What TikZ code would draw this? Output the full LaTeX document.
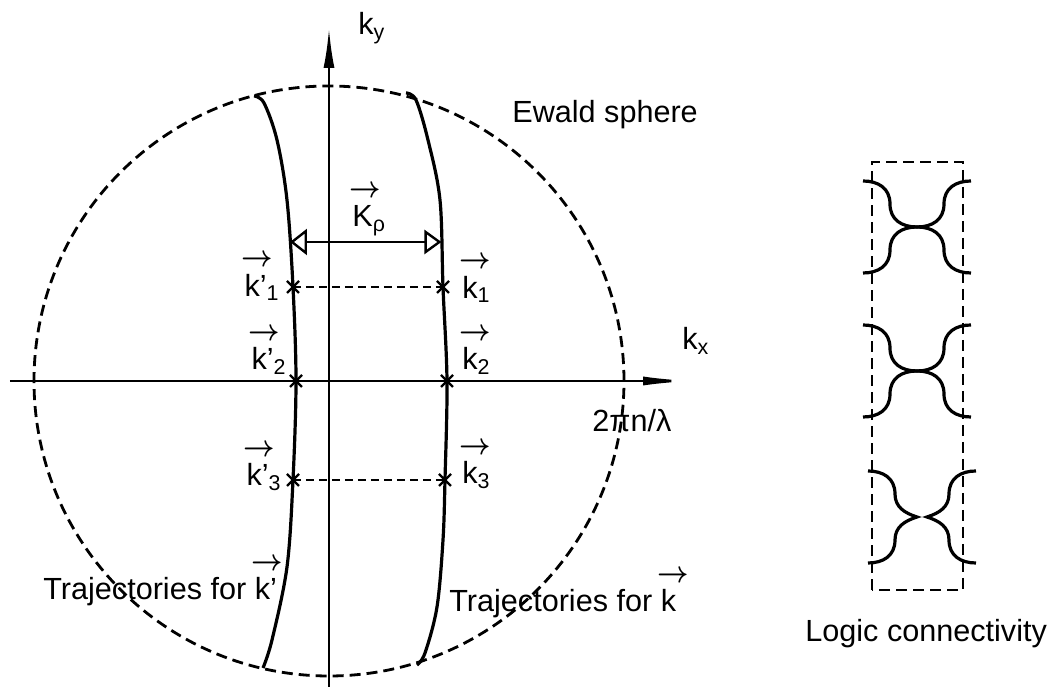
\documentclass[tikz,border=0pt]{standalone}
\usepackage{amsmath}
\usepackage{graphicx}
\usepackage{fontspec}
\setmainfont{Liberation Sans}
\usetikzlibrary{arrows.meta,positioning}

\newcommand{\kvec}[1]{\rlap{\hspace{-0.1em}\raisebox{0.95em}{\scalebox{0.95}[1.05]{$\boldsymbol{\rightarrow}$}}}#1}

\begin{document}
\begin{tikzpicture}[x=25pt,y=25pt,
  every node/.style={font=\fontsize{15.3}{18}\selectfont, inner sep=0pt},
  axis/.style={line width=1.3pt},
  traj/.style={line width=1.6pt},
  sphere/.style={line width=1.4pt, dash pattern=on 5.5pt off 3pt},
  pair/.style={line width=1.2pt, dash pattern=on 4pt off 2.5pt},
  crs/.style={line width=1.2pt},
  gate/.style={line width=1.6pt}]
\useasboundingbox (-6.58,-6.14) rectangle (14.52,7.62);

\coordinate (O) at (0,0);
\coordinate (xl) at (-6.38,0);
\coordinate (xr) at (7.28,0);
\coordinate (yb) at (0,-6.12);
\coordinate (yt) at (0,7.06);
\coordinate (kp1) at (-0.72,1.88);
\coordinate (kp2) at (-0.66,0);
\coordinate (kp3) at (-0.72,-1.98);
\coordinate (k1) at (2.28,1.88);
\coordinate (k2) at (2.36,0);
\coordinate (k3) at (2.32,-1.98);
\coordinate (rl) at (-0.78,2.78);
\coordinate (rr) at (2.25,2.78);
%\coordinate (c) at (11.76,0);

% Ewald sphere and axes
\draw [sphere] (O) circle [radius=5.9];
\draw [axis,-{Latex[length=25pt,width=4.5pt]}] (xl) to (xr);
\draw [axis,-{Latex[length=20pt,width=5.5pt]}] (yb) to (yt);

% trajectories
\draw [traj] plot [smooth, tension=0.55] coordinates {(-1.5,5.7) (-1.3,5.56) (-1.04,4.82) (-0.84,3.62) (kp1) (kp2) (kp3) (-0.84,-3.72) (-1.14,-5.18) (-1.32,-5.74)};
\draw [traj] plot [smooth, tension=0.55] coordinates {(1.54,5.76) (1.74,5.62) (1.98,4.82) (2.22,3.62) (k1) (k2) (k3) (2.28,-3.18) (2.16,-4.52) (1.92,-5.44) (1.76,-5.68)};

\draw [line width=1.2pt, {Triangle[open,length=8.5pt,width=13pt]}-{Triangle[open,length=8.5pt,width=12pt]}] (rl) to (rr);

\draw [pair] (kp1) to (k1);
\draw [pair] (kp2) to (k2);
\draw [pair] (kp3) to (k3);

\draw [crs] (kp1) +(-3pt,-3pt) -- +(3pt,3pt) +(-3pt,3pt) -- +(3pt,-3pt);
\draw [crs] (kp2) +(-3pt,-3pt) -- +(3pt,3pt) +(-3pt,3pt) -- +(3pt,-3pt);
\draw [crs] (kp3) +(-3pt,-3pt) -- +(3pt,3pt) +(-3pt,3pt) -- +(3pt,-3pt);
\draw [crs] (k1) +(-3pt,-3pt) -- +(3pt,3pt) +(-3pt,3pt) -- +(3pt,-3pt);
\draw [crs] (k2) +(-3pt,-3pt) -- +(3pt,3pt) +(-3pt,3pt) -- +(3pt,-3pt);
\draw [crs] (k3) +(-3pt,-3pt) -- +(3pt,3pt) +(-3pt,3pt) -- +(3pt,-3pt);

\node [left=6.5pt of kp1, yshift=4.5pt] (lkp1) {\kvec{k}'\textsubscript{1}};
\node [left=4.5pt of kp2, yshift=14.5pt] (lkp2) {\kvec{k}'\textsubscript{2}};
\node [left=5.5pt of kp3, yshift=6pt] (lkp3) {\kvec{k}'\textsubscript{3}};
\node [right=9.5pt of k1, yshift=3.5pt] (lk1) {\kvec{k}\textsubscript{1}};
\node [right=7.5pt of k2, yshift=14.5pt] (lk2) {\kvec{k}\textsubscript{2}};
\node [right=8.5pt of k3, yshift=7pt] (lk3) {\kvec{k}\textsubscript{3}};

\node [anchor=base west] (ky) at (0.58,6.92) {k\textsubscript{y}};
\node [anchor=base west] (kx) at (7.06,0.62) {k\textsubscript{x}};
\node [anchor=base west] (rad) at (5.26,-1.02) {2πn/λ};
\node [anchor=base west] (ewald) at (3.66,5.16) {Ewald sphere};
\node [anchor=base west] (Krho) at (0.46,3.08) {\kvec{K}\textsubscript{ρ}};
\node [anchor=base west] (trajp) at (-5.72,-4.38) {Trajectories for \kvec{k}'};
\node [anchor=base west] (traj) at (2.4,-4.62) {Trajectories for \kvec{k}};

% logic connectivity
\draw [sphere] (10.86,-4.18) rectangle (12.68,4.38);
\begin{scope}[shift={(11.76,3.08)}]
\draw [gate] (-1.08,0.92) .. controls (-0.78,0.92) and (-0.54,0.78) .. (-0.54,0.46) .. controls (-0.54,0.14) and (-0.3,0) .. (0,0) .. controls (0.3,0) and (0.54,0.14) .. (0.54,0.46) .. controls (0.54,0.78) and (0.78,0.92) .. (1.08,0.92);
\draw [gate] (-1.08,-0.92) .. controls (-0.78,-0.92) and (-0.54,-0.78) .. (-0.54,-0.46) .. controls (-0.54,-0.14) and (-0.3,0) .. (0,0) .. controls (0.3,0) and (0.54,-0.14) .. (0.54,-0.46) .. controls (0.54,-0.78) and (0.78,-0.92) .. (1.08,-0.92);
\end{scope}
\begin{scope}[shift={(11.76,0.2)}]
\draw [gate] (-1.08,0.92) .. controls (-0.78,0.92) and (-0.54,0.78) .. (-0.54,0.46) .. controls (-0.54,0.14) and (-0.3,0) .. (0,0) .. controls (0.3,0) and (0.54,0.14) .. (0.54,0.46) .. controls (0.54,0.78) and (0.78,0.92) .. (1.08,0.92);
\draw [gate] (-1.08,-0.92) .. controls (-0.78,-0.92) and (-0.54,-0.78) .. (-0.54,-0.46) .. controls (-0.54,-0.14) and (-0.3,0) .. (0,0) .. controls (0.3,0) and (0.54,-0.14) .. (0.54,-0.46) .. controls (0.54,-0.78) and (0.78,-0.92) .. (1.08,-0.92);
\end{scope}
\begin{scope}[shift={(11.86,-2.72)}]
\draw [gate] (-1.08,0.92) .. controls (-0.78,0.92) and (-0.54,0.78) .. (-0.54,0.46) .. controls (-0.54,0.2) and (-0.35,0.08) .. (-0.1,0) .. controls (-0.35,-0.08) and (-0.54,-0.2) .. (-0.54,-0.46) .. controls (-0.54,-0.78) and (-0.78,-0.92) .. (-1.08,-0.92);
\draw [gate] (1.08,0.92) .. controls (0.78,0.92) and (0.54,0.78) .. (0.54,0.46) .. controls (0.54,0.2) and (0.35,0.08) .. (0.1,0) .. controls (0.35,-0.08) and (0.54,-0.2) .. (0.54,-0.46) .. controls (0.54,-0.78) and (0.78,-0.92) .. (1.08,-0.92);
\end{scope}
\node [anchor=base west] (logic) at (9.52,-5.22) {Logic connectivity};

\end{tikzpicture}
\end{document}
